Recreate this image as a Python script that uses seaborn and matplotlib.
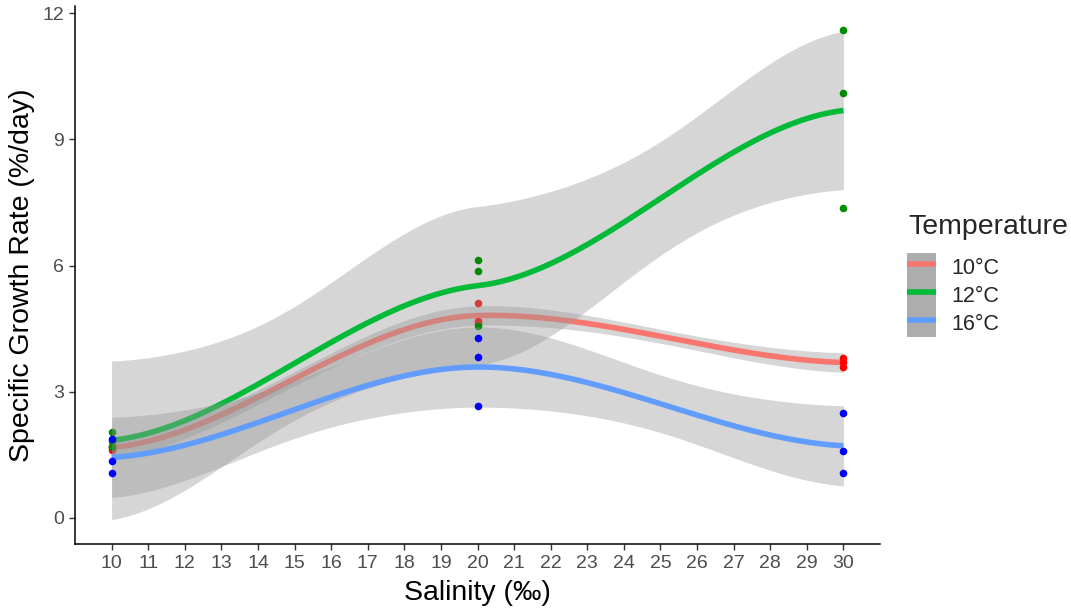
import numpy as np
import pandas as pd
import matplotlib
matplotlib.use("Agg")
import matplotlib.pyplot as plt
import seaborn as sns
from matplotlib.lines import Line2D
from matplotlib.patches import Rectangle
from matplotlib.legend_handler import HandlerTuple

# Specific growth rate (%/day), three replicates per salinity level
salinity = [10, 10, 10, 20, 20, 20, 30, 30, 30]
sgr_10c = [1.62, 1.68, 1.72, 5.11, 4.69, 4.63, 3.79, 3.70, 3.59]
sgr_12c = [2.03, 1.82, 1.68, 6.13, 5.86, 4.57, 11.59, 10.11, 7.36]
sgr_16c = [1.88, 1.36, 1.07, 4.27, 3.82, 2.67, 2.49, 1.58, 1.07]

temperatures = ["10°C", "12°C", "16°C"]
line_colors = ["#F8766D", "#00BA38", "#619CFF"]
point_colors = ["#FF0000", "#008B00", "#0000FF"]
x_ticks = list(range(10, 31))
y_ticks = [0, 3, 6, 9, 12]

T_975 = {6: 2.4469}     # 97.5% Student t quantile by residual df
SLOPE_SHRINK = 0.25     # node slope as a fraction of the finite-difference slope


def hermite_curve(levels, values, grid):
    """Cubic Hermite curve through the level means with shrunken node slopes."""
    levels = np.asarray(levels, float)
    values = np.asarray(values, float)
    slopes = SLOPE_SHRINK * np.gradient(values, levels)
    idx = np.clip(np.searchsorted(levels, grid, side="right") - 1, 0, len(levels) - 2)
    x0 = levels[idx]
    h = levels[idx + 1] - x0
    t = (grid - x0) / h
    h00 = 2 * t**3 - 3 * t**2 + 1
    h10 = t**3 - 2 * t**2 + t
    h01 = -2 * t**3 + 3 * t**2
    h11 = t**3 - t**2
    return (h00 * values[idx] + h10 * h * slopes[idx]
            + h01 * values[idx + 1] + h11 * h * slopes[idx + 1])


def smooth_with_band(x, y, grid):
    x = np.asarray(x, float)
    y = np.asarray(y, float)
    levels = np.unique(x)
    means = np.array([y[x == lv].mean() for lv in levels])
    counts = np.array([(x == lv).sum() for lv in levels])
    rss = sum(((y[x == lv] - y[x == lv].mean()) ** 2).sum() for lv in levels)
    df_resid = len(y) - len(levels)
    sigma = np.sqrt(rss / df_resid)
    basis = np.array([hermite_curve(levels, np.eye(len(levels))[j], grid)
                      for j in range(len(levels))])
    fit = basis.T @ means
    se = sigma * np.sqrt(((basis ** 2) / counts[:, None]).sum(axis=0))
    half = T_975[df_resid] * se
    return fit, fit - half, fit + half


sns.set_style("ticks")
plt.rcParams["font.family"] = ["Liberation Sans", "DejaVu Sans"]

W, H = 1071, 610
fig = plt.figure(figsize=(W / 100, H / 100), dpi=100)
ax = fig.add_axes([75 / W, 1 - 544 / H, (880 - 75) / W, (544 - 6) / H])

series = [sgr_10c, sgr_12c, sgr_16c]
grid = np.linspace(min(salinity), max(salinity), 200)
for i, (temp, vals, lcol, pcol) in enumerate(zip(temperatures, series,
                                                  line_colors, point_colors)):
    fit, lo, hi = smooth_with_band(salinity, vals, grid)
    ax.fill_between(grid, lo, hi, color="#999999", alpha=0.4, linewidth=0,
                    zorder=2 + 3 * i)
    sns.lineplot(x=grid, y=fit, color=lcol, linewidth=4, ax=ax, zorder=3 + 3 * i,
                 solid_capstyle="butt")
    group = pd.DataFrame({"Salinity": salinity, "SGR": vals})
    sns.scatterplot(data=group, x="Salinity", y="SGR", color=pcol, s=30,
                    linewidth=0, legend=False, ax=ax, zorder=4 + 3 * i)

ax.margins(x=0.05, y=0.05)
ax.set_xticks(x_ticks)
ax.set_yticks(y_ticks)
for side in ("top", "right"):
    ax.spines[side].set_visible(False)
for side in ("left", "bottom"):
    ax.spines[side].set_linewidth(1.1)
    ax.spines[side].set_color("black")
ax.tick_params(axis="both", length=4, width=1.0, color="#333333",
               labelcolor="#4D4D4D", labelsize=14, pad=4)
ax.set_xlabel("Salinity (‰)", fontsize=20.5, color="black", labelpad=6)
ax.set_ylabel("Specific Growth Rate (%/day)", fontsize=20.5, color="black", labelpad=5)
ax.set_facecolor("white")

fig.text(908 / W, 1 - 227 / H, "Temperature", fontsize=20.5, ha="left", va="center")
fs_px = 15.5 * 100 / 72
handles = [(Rectangle((0, 0), 1, 1, facecolor="#ADADAD", edgecolor="none"),
            Line2D([], [], color=c, linewidth=4, solid_capstyle="butt"))
           for c in line_colors]
ax.legend(handles, temperatures, handler_map={tuple: HandlerTuple(ndivide=1, pad=0)},
          loc="upper left", bbox_to_anchor=(907 / W, 1 - 253 / H),
          bbox_transform=fig.transFigure, frameon=False, borderpad=0,
          borderaxespad=0, labelspacing=0, fontsize=15.5,
          handlelength=29 / fs_px, handleheight=1.24 * 28.3 / fs_px,
          handletextpad=15 / fs_px)

fig.savefig("out.png", dpi=100, facecolor="white")
